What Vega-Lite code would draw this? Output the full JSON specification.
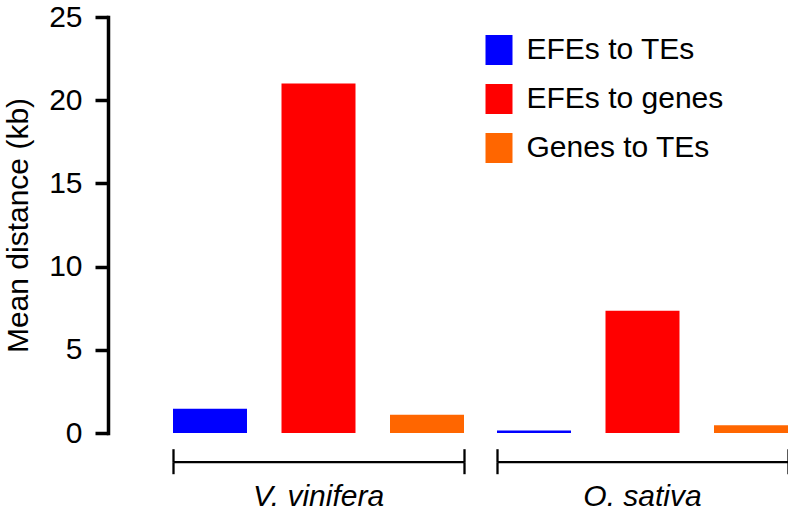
{
  "$schema": "https://vega.github.io/schema/vega-lite/v6.json",
  "padding": {"left": 3, "top": 2, "right": 0, "bottom": 0},
  "background": "white",
  "config": {"font": "Liberation Sans", "view": {"stroke": null}},
  "data": {"values": [
    {"species": "V. vinifera", "type": "EFEs to TEs", "distance": 1.45},
    {"species": "V. vinifera", "type": "EFEs to genes", "distance": 21.0},
    {"species": "V. vinifera", "type": "Genes to TEs", "distance": 1.1},
    {"species": "O. sativa", "type": "EFEs to TEs", "distance": 0.15},
    {"species": "O. sativa", "type": "EFEs to genes", "distance": 7.35},
    {"species": "O. sativa", "type": "Genes to TEs", "distance": 0.46}
  ]},
  "facet": {
    "column": {
      "field": "species", "type": "nominal", "sort": ["V. vinifera", "O. sativa"],
      "header": {"title": null, "labelOrient": "bottom", "labelFontSize": 30, "labelFontStyle": "italic", "labelPadding": 7, "labelColor": "black", "labelFont": "Liberation Sans"}
    }
  },
  "spacing": 33,
  "spec": {
    "width": 291,
    "height": 416,
    "layer": [
      {
        "mark": {"type": "bar"},
        "encoding": {
          "x": {
            "field": "type", "type": "nominal",
            "sort": ["EFEs to TEs", "EFEs to genes", "Genes to TEs"],
            "scale": {"paddingInner": 0.318, "paddingOuter": 0},
            "axis": {
              "orient": "bottom", "title": null, "labels": false, "domainWidth": 2.2, "domainColor": "black",
              "tickColor": "black", "tickWidth": 2.3, "tickBand": "extent", "offset": 28.7, "tickSize": 12,
              "tickOpacity": {"condition": {"test": "datum.extra || datum.value === 'Genes to TEs'", "value": 1}, "value": 0}
            }
          },
          "y": {
            "field": "distance", "type": "quantitative",
            "scale": {"domain": [0, 25], "nice": false},
            "axis": {
              "title": "Mean distance (kb)", "values": [0, 5, 10, 15, 20, 25], "grid": false,
              "offset": 65, "tickSize": 13, "tickWidth": 3.5, "domainWidth": 3.5, "domainCap": "square",
              "labelFontSize": 30, "titleFontSize": 30, "labelPadding": 13, "titlePadding": 15,
              "titleFontWeight": "normal", "labelColor": "black", "titleColor": "black",
              "domainColor": "black", "tickColor": "black"
            }
          },
          "color": {
            "field": "type", "type": "nominal",
            "scale": {"domain": ["EFEs to TEs", "EFEs to genes", "Genes to TEs"], "range": ["#0000FF", "#FF0000", "#FF6600"]},
            "legend": {
              "title": null, "orient": "none", "legendX": 311, "legendY": 18,
              "symbolType": "M-0.9,-1H0.9V1H-0.9Z", "symbolSize": 900, "symbolStrokeWidth": 0,
              "symbolOpacity": 1, "labelFontSize": 30, "labelOffset": 12.5, "rowPadding": 19,
              "labelColor": "black", "labelLimit": 400
            }
          }
        }
      },
      {
        "mark": {"type": "bar", "opacity": 0},
        "encoding": {
          "x": {
            "field": "type", "type": "nominal",
            "sort": ["EFEs to TEs", "EFEs to genes", "Genes to TEs"],
            "axis": {
              "orient": "bottom", "title": null, "labels": false, "domain": false,
              "tickColor": "black", "tickWidth": 2.3, "tickBand": "extent", "offset": 28.7, "tickSize": -13,
              "tickOpacity": {"condition": {"test": "datum.extra || datum.value === 'Genes to TEs'", "value": 1}, "value": 0}
            }
          }
        }
      }
    ],
    "resolve": {"axis": {"x": "independent"}}
  }
}
